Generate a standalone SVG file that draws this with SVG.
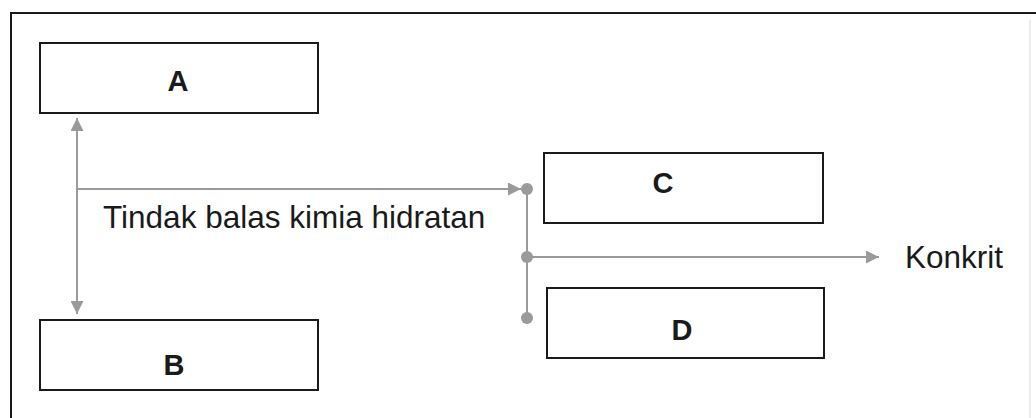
<svg xmlns="http://www.w3.org/2000/svg" width="1036" height="418" viewBox="0 0 1036 418">
  <style>
    .box { fill: #ffffff; stroke: #1a1a1a; stroke-width: 2; }
    .lbl { font-family: "Liberation Sans", Arial, sans-serif; font-weight: bold; font-size: 29px; fill: #1a1a1a; text-anchor: middle; }
    .txt { font-family: "Liberation Sans", Arial, sans-serif; font-size: 31.5px; fill: #1a1a1a; }
    .wire { stroke: #9a9a9a; stroke-width: 2; fill: none; }
    .dot { fill: #9a9a9a; }
  </style>
  <defs>
    <marker id="tri" viewBox="0 0 10 10" refX="10" refY="5" markerWidth="13" markerHeight="13" markerUnits="userSpaceOnUse" orient="auto-start-reverse">
      <path d="M0,0 L10,5 L0,10 Z" fill="#9a9a9a"/>
    </marker>
  </defs>
  <rect width="1036" height="418" fill="#ffffff"/>

  <!-- outer frame -->
  <g id="frame">
    <path d="M11,418 V13 H1036" fill="none" stroke="#1a1a1a" stroke-width="2"/>
    <line x1="1030" y1="20" x2="1030" y2="418" stroke="#e6e6e6" stroke-width="1.5"/>
  </g>

  <!-- connectors -->
  <g id="connectors">
    <line class="wire" x1="77" y1="118" x2="77" y2="314" marker-start="url(#tri)" marker-end="url(#tri)"/>
    <line class="wire" x1="77" y1="189" x2="521" y2="189" marker-end="url(#tri)"/>
    <line class="wire" x1="527" y1="189" x2="527" y2="318"/>
    <line class="wire" x1="527" y1="257" x2="879" y2="257" marker-end="url(#tri)"/>
    <circle class="dot" cx="527" cy="189" r="6"/>
    <circle class="dot" cx="527" cy="257" r="6"/>
    <circle class="dot" cx="527" cy="318" r="6"/>
  </g>

  <g id="nodeA">
    <rect class="box" x="40" y="43" width="278" height="70"/>
    <text class="lbl" x="178" y="91">A</text>
  </g>
  <g id="nodeB">
    <rect class="box" x="40" y="320" width="278" height="70"/>
    <text class="lbl" x="174" y="375">B</text>
  </g>
  <g id="nodeC">
    <rect class="box" x="544" y="153" width="279" height="70"/>
    <text class="lbl" x="663" y="193">C</text>
  </g>
  <g id="nodeD">
    <rect class="box" x="547" y="288" width="277" height="70"/>
    <text class="lbl" x="682" y="340">D</text>
  </g>

  <g id="labels">
    <text class="txt" x="103" y="228">Tindak balas kimia hidratan</text>
    <text class="txt" x="905" y="268">Konkrit</text>
  </g>
</svg>
